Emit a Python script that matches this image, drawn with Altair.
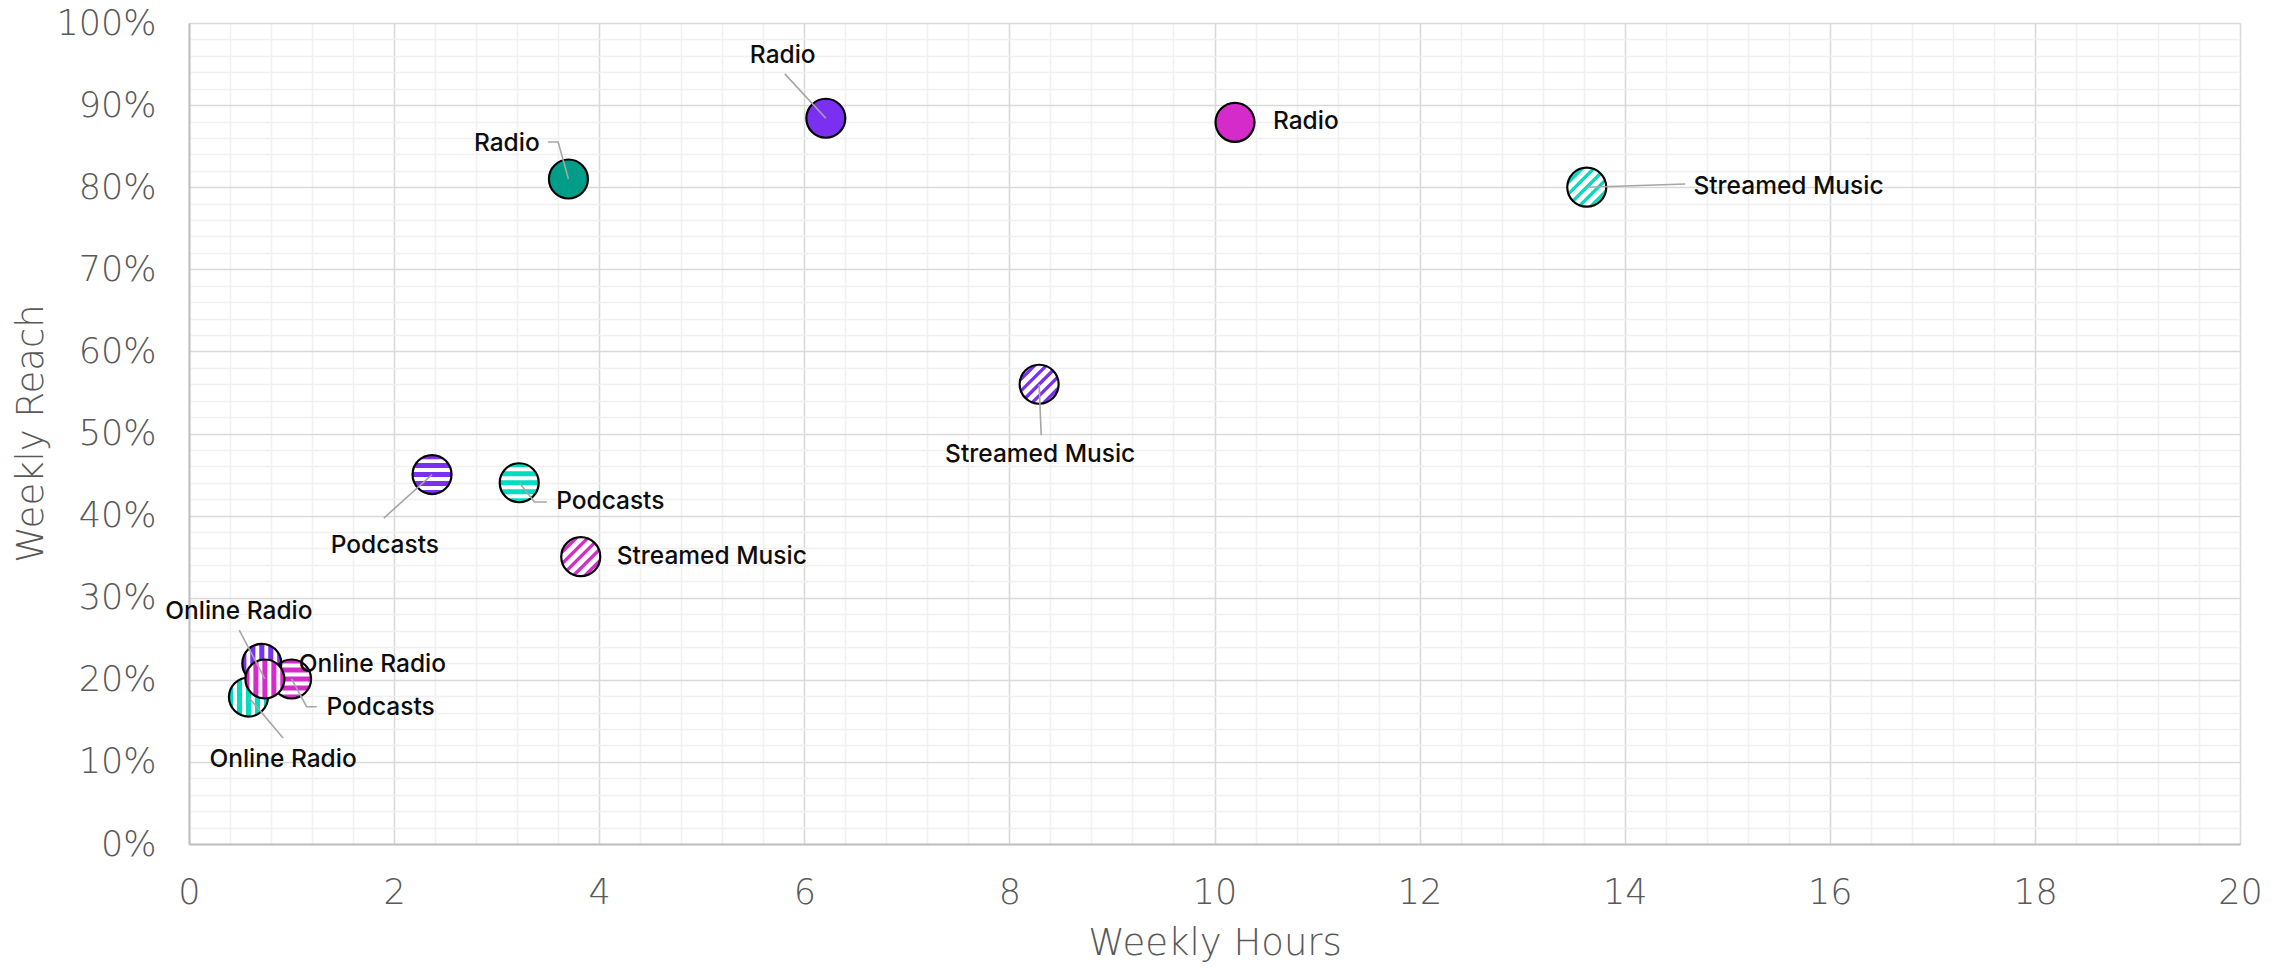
import math
import altair as alt
import pandas as pd

# ---------------- data ----------------
categories = ["Radio", "Streamed Music", "Podcasts", "Online Radio"]
series_names = ["Group A", "Group B", "Group C"]
weekly_hours = {
    "Group A": [6.21, 8.29, 2.37, 0.71],
    "Group B": [10.20, 3.82, 1.00, 0.74],
    "Group C": [3.70, 13.63, 3.22, 0.58],
}
weekly_reach = {
    "Group A": [0.884, 0.560, 0.450, 0.220],
    "Group B": [0.879, 0.350, 0.201, 0.201],
    "Group C": [0.810, 0.800, 0.440, 0.179],
}

# ---------------- styles ----------------
solid_colors = {"Group A": "#7B2FF0", "Group B": "#D62BCB", "Group C": "#009E89"}
stripe_colors = {"Group A": "#7B2FF0", "Group B": "#D62BCB", "Group C": "#00DCC0"}
category_pattern = {"Radio": "solid", "Streamed Music": "diagonal",
                    "Podcasts": "horizontal", "Online Radio": "vertical"}

# label placement (data units): series, category -> (label x, label y, align, leader vertices)
label_layout = {
    ("Group A", "Radio"): (5.79, 0.960, "center", [(5.81, 0.938)]),
    ("Group A", "Streamed Music"): (8.30, 0.474, "center", [(8.31, 0.498)]),
    ("Group A", "Podcasts"): (1.91, 0.363, "center", [(1.90, 0.397)]),
    ("Group A", "Online Radio"): (1.07, 0.218, "left", []),
    ("Group B", "Radio"): (10.57, 0.879, "left", []),
    ("Group B", "Streamed Music"): (4.17, 0.350, "left", []),
    ("Group B", "Podcasts"): (1.34, 0.166, "left", [(1.147, 0.1672), (1.245, 0.1672)]),
    ("Group B", "Online Radio"): (0.486, 0.2826, "center", [(0.49, 0.2606)]),
    ("Group C", "Radio"): (3.42, 0.853, "right", [(3.60, 0.855), (3.50, 0.855)]),
    ("Group C", "Streamed Music"): (14.67, 0.800, "left", [(14.59, 0.8039)]),
    ("Group C", "Podcasts"): (3.58, 0.4166, "left", [(3.37, 0.4166), (3.49, 0.4166)]),
    ("Group C", "Online Radio"): (0.917, 0.1023, "center", [(0.917, 0.129)]),
}
front_points = [("Group B", "Online Radio")]

SYMBOL_SIZE = 1521  # (diameter px)^2


# ---------------- pattern glyphs (unit circle) ----------------
def band(a, b, n=12):
    a = max(a, -1.0)
    b = min(b, 1.0)
    pts = []
    for i in range(n + 1):
        t = a + (b - a) * i / n
        pts.append((math.sqrt(max(0.0, 1 - t * t)), t))
    for i in range(n + 1):
        t = b - (b - a) * i / n
        pts.append((-math.sqrt(max(0.0, 1 - t * t)), t))
    return pts


def stripes_path(kind, period, width, phase=0.0):
    parts = []
    k = -10
    while k <= 10:
        c = k * period + phase
        a, b = c - width / 2, c + width / 2
        k += 1
        if b <= -1 or a >= 1:
            continue
        pts = band(a, b)
        out = []
        for v, u in pts:
            if kind == "horizontal":
                x, y = v, u
            elif kind == "vertical":
                x, y = u, v
            else:  # diagonal "/" : normal (1,1), direction (1,-1)
                x, y = (u + v) / math.sqrt(2), (u - v) / math.sqrt(2)
            out.append(f"{x:.3f},{y:.3f}")
        parts.append("M" + "L".join(out) + "Z")
    return "".join(parts)


pattern_names = ["horizontal", "vertical", "diagonal"]
pattern_paths = [
    stripes_path("horizontal", 0.46, 0.26, 0.0),
    stripes_path("vertical", 0.46, 0.26, 0.0),
    stripes_path("diagonal", 0.42, 0.17, 0.0),
]

# ---------------- tables ----------------
rows, leader_rows, label_rows = [], [], []
pid = 0
for s in series_names:
    for i, c in enumerate(categories):
        x, y = weekly_hours[s][i], weekly_reach[s][i]
        pat = category_pattern[c]
        rows.append({
            "series": s, "category": c, "hours": x, "reach": y,
            "pattern": pat,
            "base": solid_colors[s] if pat == "solid" else "#FFFFFF",
            "stripe": stripe_colors[s],
            "front": (s, c) in front_points,
        })
        lx, ly, al, verts = label_layout[(s, c)]
        label_rows.append({"label": c, "hours": lx, "reach": ly, "align": al})
        if verts:
            seq = [(x, y)] + verts
            for j, (vx, vy) in enumerate(seq):
                leader_rows.append({"id": pid, "seq": j, "hours": vx, "reach": vy})
        pid += 1

points = pd.DataFrame(rows)
leaders = pd.DataFrame(leader_rows)
labels = pd.DataFrame(label_rows)

# ---------------- scales / axes ----------------
x_vals = [round(0.4 * i, 1) for i in range(51)]
y_vals = [round(0.02 * i, 2) for i in range(51)]
major_x = "abs(datum.value/2 - round(datum.value/2)) < 1e-6"
major_y = "abs(datum.value*10 - round(datum.value*10)) < 1e-6"

AXIS_FONT = "DejaVu Sans"
AXIS_W = 200
x_scale = alt.Scale(domain=[0, 20], nice=False, zero=True)
y_scale = alt.Scale(domain=[0, 1], nice=False)

x_axis = alt.Axis(
    title="Weekly Hours", values=x_vals,
    labelExpr=f"{major_x} ? format(datum.value, '.0f') : ''",
    labelOverlap=False, labelFlush=False, labelBound=False,
    ticks=False, tickSize=0, labelPadding=31, labelFontSize=35, labelFont=AXIS_FONT,
    labelFontWeight=AXIS_W, labelColor="#595959",
    titleFontSize=37, titleFont=AXIS_FONT, titleFontWeight=AXIS_W, titleColor="#595959",
    titleY=99, titleBaseline="middle",
    grid=True,
    gridColor={"condition": {"test": major_x, "value": "#D9D9D9"}, "value": "#F0F0F0"},
    gridWidth=1.6, domainColor="#BFBFBF", domainWidth=2,
)
y_axis = alt.Axis(
    title="Weekly Reach", values=y_vals,
    labelExpr=f"{major_y} ? format(datum.value, '.0%') : ''",
    labelOverlap=False, labelFlush=False, labelBound=False,
    ticks=False, tickSize=0, labelPadding=33, labelFontSize=35, labelFont=AXIS_FONT,
    labelFontWeight=AXIS_W, labelColor="#595959",
    titleFontSize=37, titleFont=AXIS_FONT, titleFontWeight=AXIS_W, titleColor="#595959",
    titleX=-158, titleY=410, titleBaseline="middle", titleAngle=-90,
    grid=True,
    gridColor={"condition": {"test": major_y, "value": "#D9D9D9"}, "value": "#F0F0F0"},
    gridWidth=1.6, domainColor="#BFBFBF", domainWidth=2,
)

X = alt.X("hours:Q", scale=x_scale, axis=x_axis)
Y = alt.Y("reach:Q", scale=y_scale, axis=y_axis)


def point_layers(front):
    base = alt.Chart(points).transform_filter(
        f"datum.front == {'true' if front else 'false'}"
    )
    fill = base.mark_point(shape="circle", filled=True, size=SYMBOL_SIZE,
                           strokeWidth=0, opacity=1).encode(
        x=X, y=Y, color=alt.Color("base:N", scale=None))
    stripes = base.transform_filter("datum.pattern != 'solid'").mark_point(
        filled=True, size=SYMBOL_SIZE, strokeWidth=0, opacity=1).encode(
        x=X, y=Y,
        shape=alt.Shape("pattern:N", scale=alt.Scale(domain=pattern_names, range=pattern_paths),
                        legend=None),
        color=alt.Color("stripe:N", scale=None))
    outline = base.mark_point(shape="circle", filled=False, size=SYMBOL_SIZE,
                              stroke="#000000", strokeWidth=2.2, opacity=1).encode(
        x=X, y=Y)
    return [fill, stripes, outline]


leader_layer = alt.Chart(leaders).mark_line(color="#A6A6A6", strokeWidth=1.6).encode(
    x=X, y=Y, detail="id:N", order="seq:Q")

text_layers = []
for al in ["left", "center", "right"]:
    text_layers.append(
        alt.Chart(labels).transform_filter(f"datum.align == '{al}'").mark_text(
            align=al, baseline="middle", font="Inter", fontSize=24.5, fontWeight=500,
            color="#0D0D0D").encode(x=X, y=Y, text="label:N")
    )

chart = alt.layer(
    *point_layers(False), *point_layers(True), leader_layer, *text_layers
).properties(
    width=2051, height=821,
    autosize=alt.AutoSizeParams(type="none"),
    padding={"left": 181, "top": 15, "right": 40, "bottom": 120},
).configure_view(stroke=None)

chart.save("out.html", embed_options={"renderer": "svg", "actions": False})
